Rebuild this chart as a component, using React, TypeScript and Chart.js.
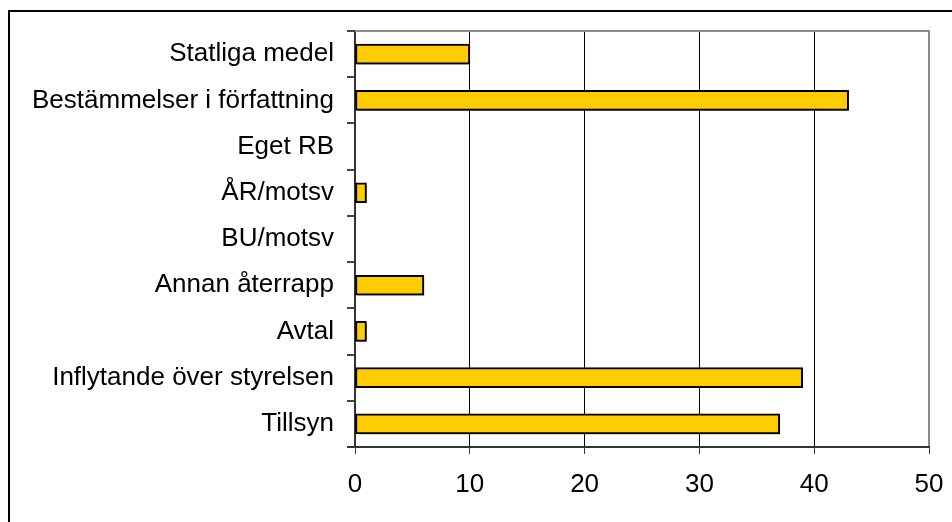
import React, { useEffect, useRef } from "react";
import { Chart, registerables } from "chart.js";

Chart.register(...registerables);

const categories = [
  "Statliga medel",
  "Bestämmelser i författning",
  "Eget RB",
  "ÅR/motsv",
  "BU/motsv",
  "Annan återrapp",
  "Avtal",
  "Inflytande över styrelsen",
  "Tillsyn",
];
const values = [10, 43, 0, 1, 0, 6, 1, 39, 37];
const xTicks = [0, 10, 20, 30, 40, 50];

const FONT = "'Liberation Sans', Arial, sans-serif";

const framePlugin = {
  id: "frame",
  beforeDraw(chart: any) {
    const { ctx, width, height } = chart;
    ctx.save();
    ctx.fillStyle = "#ffffff";
    ctx.fillRect(0, 0, width, height);
    ctx.restore();
  },
  afterDraw(chart: any) {
    const { ctx, chartArea } = chart;
    ctx.save();
    // plot area top & right border (gray)
    ctx.strokeStyle = "#8c8c8c";
    ctx.lineWidth = 2;
    ctx.beginPath();
    ctx.moveTo(chartArea.left, chartArea.top);
    ctx.lineTo(chartArea.right, chartArea.top);
    ctx.lineTo(chartArea.right, chartArea.bottom);
    ctx.stroke();
    // bottom axis line
    ctx.strokeStyle = "#333333";
    ctx.lineWidth = 2;
    ctx.beginPath();
    ctx.moveTo(chartArea.left - 8, chartArea.bottom);
    ctx.lineTo(chartArea.right + 1, chartArea.bottom);
    ctx.stroke();
    // outer frame
    ctx.strokeStyle = "#000000";
    ctx.lineWidth = 2;
    ctx.strokeRect(9, 11, 2000, 2000);
    ctx.restore();
  },
};

const shadowPlugin = {
  id: "barShadow",
  beforeDatasetDraw(chart: any) {
    const ctx = chart.ctx;
    ctx.save();
    ctx.shadowColor = "rgba(0,0,0,0.3)";
    ctx.shadowOffsetX = 2;
    ctx.shadowOffsetY = 2;
    ctx.shadowBlur = 0;
  },
  afterDatasetDraw(chart: any) {
    chart.ctx.restore();
  },
};

export default function App() {
  const ref = useRef<HTMLCanvasElement | null>(null);

  useEffect(() => {
    if (!ref.current) return;
    const chart = new Chart(ref.current, {
      type: "bar",
      data: {
        labels: categories,
        datasets: [
          {
            data: values,
            backgroundColor: (c: any) => (c.raw === 0 ? "rgba(0,0,0,0)" : "#FFCC00"),
            borderColor: "#000000",
            borderWidth: (c: any) => (c.raw === 0 ? 0 : 2),
            borderSkipped: false,
            barThickness: 20,
          },
        ],
      },
      options: {
        indexAxis: "y",
        animation: false,
        responsive: false,
        maintainAspectRatio: false,
        layout: { padding: { top: 31, right: 23, left: 0, bottom: 0 } },
        plugins: {
          legend: { display: false },
          tooltip: { enabled: false },
        },
        scales: {
          x: {
            type: "linear",
            min: 0,
            max: 50,
            afterBuildTicks: (scale: any) => {
              scale.ticks = xTicks.map((v) => ({ value: v }));
            },
            afterFit: (scale: any) => {
              scale.height = 75;
              scale.paddingLeft = 0;
              scale.paddingRight = 0;
            },
            grid: {
              color: (c: any) =>
                c.tick && (c.tick.value === 0 || c.tick.value === 50)
                  ? "rgba(0,0,0,0)"
                  : "#000000",
              tickColor: "#333333",
              lineWidth: 1,
              drawTicks: true,
              tickLength: 7,
            },
            border: { display: false },
            ticks: {
              color: "#000000",
              font: { family: FONT, size: 26 },
              padding: 15,
              maxRotation: 0,
            },
          },
          y: {
            type: "category",
            afterFit: (scale: any) => {
              scale.width = 355;
              scale.paddingTop = 0;
              scale.paddingBottom = 0;
            },
            grid: {
              offset: true,
              drawOnChartArea: false,
              drawTicks: true,
              tickLength: 8,
              tickColor: "#444444",
              lineWidth: 2,
            },
            border: { display: true, color: "#333333", width: 2 },
            ticks: {
              color: "#000000",
              font: { family: FONT, size: 26 },
              padding: 13,
              autoSkip: false,
            },
          },
        },
      },
      plugins: [framePlugin, shadowPlugin],
    } as any);
    return () => chart.destroy();
  }, []);

  return (
    <div style={{ position: "fixed", left: 0, top: 0, width: 952, height: 522 }}>
      <canvas ref={ref} width={952} height={522} style={{ display: "block", width: 952, height: 522 }} />
    </div>
  );
}
